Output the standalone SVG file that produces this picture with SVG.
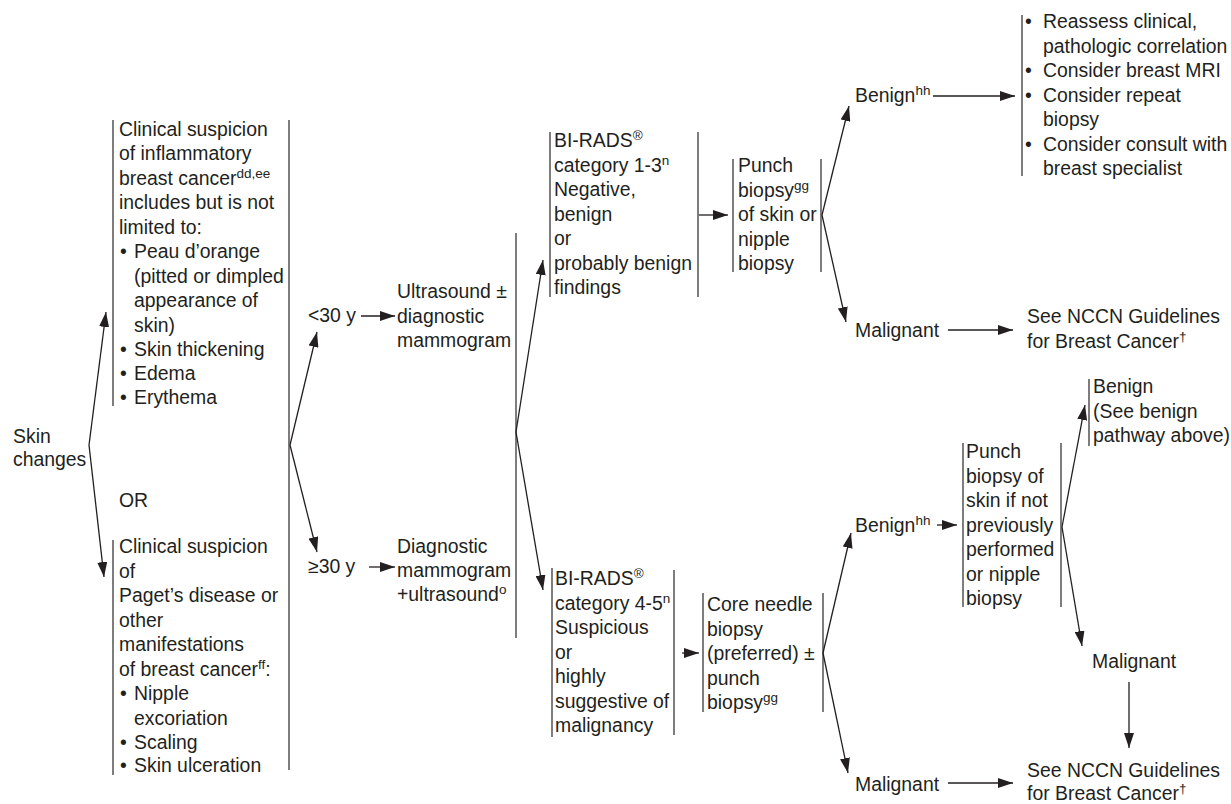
<svg xmlns="http://www.w3.org/2000/svg" width="1231" height="804" viewBox="0 0 1231 804">
  <defs>
    <marker id="arrow" viewBox="0 0 15 10" refX="15" refY="5" markerWidth="15" markerHeight="10" markerUnits="userSpaceOnUse" orient="auto">
      <path d="M0,0 L15,5 L0,10 z" fill="#231f20"/>
    </marker>
    <style>
      text { font-family: "Liberation Sans", Arial, Helvetica, sans-serif; font-size: 19.4px; fill: #231f20; }
      .sup { font-size: 13.5px; }
      .bar { stroke: #3a3637; stroke-width: 1.3; fill: none; }
      .conn line { stroke: #231f20; stroke-width: 1.3; fill: none; marker-end: url(#arrow); }
    </style>
  </defs>
  <rect width="1231" height="804" fill="#ffffff"/>

  <!-- Start -->
  <g id="skin-changes">
    <text><tspan x="13" y="443">Skin</tspan><tspan x="13" y="466">changes</tspan></text>
  </g>

  <!-- Presentations -->
  <g id="inflammatory">
    <line class="bar" x1="113" y1="120" x2="113" y2="406"/>
    <text>
      <tspan x="119" y="135.5">Clinical suspicion</tspan>
      <tspan x="119" y="160">of inflammatory</tspan>
      <tspan x="119" y="184.5">breast cancer<tspan class="sup" dy="-7">dd,ee</tspan></tspan>
      <tspan x="119" y="209">includes but is not</tspan>
      <tspan x="119" y="233.5">limited to:</tspan>
      <tspan x="120" y="258">•</tspan><tspan x="134" y="258">Peau d’orange</tspan>
      <tspan x="134" y="282.5">(pitted or dimpled</tspan>
      <tspan x="134" y="307">appearance of</tspan>
      <tspan x="134" y="331.5">skin)</tspan>
      <tspan x="120" y="356">•</tspan><tspan x="134" y="356">Skin thickening</tspan>
      <tspan x="120" y="380">•</tspan><tspan x="134" y="380">Edema</tspan>
      <tspan x="120" y="404">•</tspan><tspan x="134" y="404">Erythema</tspan>
    </text>
  </g>

  <g id="or-label">
    <text x="119" y="507">OR</text>
  </g>

  <g id="paget">
    <line class="bar" x1="113" y1="540" x2="113" y2="775"/>
    <text>
      <tspan x="119" y="553">Clinical suspicion</tspan>
      <tspan x="119" y="577.5">of</tspan>
      <tspan x="119" y="602">Paget’s disease or</tspan>
      <tspan x="119" y="626.5">other</tspan>
      <tspan x="119" y="651">manifestations</tspan>
      <tspan x="119" y="675.5">of breast cancer<tspan class="sup" dy="-7">ff</tspan><tspan dy="7">:</tspan></tspan>
      <tspan x="120" y="700">•</tspan><tspan x="134" y="700">Nipple</tspan>
      <tspan x="134" y="724.5">excoriation</tspan>
      <tspan x="120" y="749">•</tspan><tspan x="134" y="749">Scaling</tspan>
      <tspan x="120" y="772">•</tspan><tspan x="134" y="772">Skin ulceration</tspan>
    </text>
  </g>

  <g id="presentation-close">
    <line class="bar" x1="289" y1="120" x2="289" y2="770"/>
  </g>

  <!-- Age split -->
  <g id="age-under-30">
    <text x="308" y="322">&lt;30 y</text>
  </g>
  <g id="age-30-plus">
    <text x="308" y="573">≥30 y</text>
  </g>

  <!-- Imaging -->
  <g id="ultrasound">
    <text>
      <tspan x="397" y="298">Ultrasound ±</tspan>
      <tspan x="397" y="322.5">diagnostic</tspan>
      <tspan x="397" y="347">mammogram</tspan>
    </text>
  </g>
  <g id="diagnostic-mammogram">
    <text>
      <tspan x="397" y="553">Diagnostic</tspan>
      <tspan x="397" y="577">mammogram</tspan>
      <tspan x="397" y="601">+ultrasound<tspan class="sup" dy="-7">o</tspan></tspan>
    </text>
  </g>
  <g id="imaging-close">
    <line class="bar" x1="516" y1="233" x2="516" y2="638"/>
  </g>

  <!-- BI-RADS 1-3 branch -->
  <g id="birads-1-3">
    <line class="bar" x1="550" y1="132" x2="550" y2="297"/>
    <line class="bar" x1="698" y1="132" x2="698" y2="297"/>
    <text>
      <tspan x="554" y="147">BI-RADS<tspan class="sup" dy="-7">®</tspan></tspan>
      <tspan x="554" y="171.5">category 1-3<tspan class="sup" dy="-7">n</tspan></tspan>
      <tspan x="554" y="196">Negative,</tspan>
      <tspan x="554" y="220.5">benign</tspan>
      <tspan x="554" y="245">or</tspan>
      <tspan x="554" y="269.5">probably benign</tspan>
      <tspan x="554" y="294">findings</tspan>
    </text>
  </g>

  <g id="punch-biopsy-1">
    <line class="bar" x1="733" y1="159" x2="733" y2="272"/>
    <line class="bar" x1="821" y1="159" x2="821" y2="272"/>
    <text>
      <tspan x="738" y="172">Punch</tspan>
      <tspan x="738" y="196.5">biopsy<tspan class="sup" dy="-7">gg</tspan></tspan>
      <tspan x="738" y="221">of skin or</tspan>
      <tspan x="738" y="245.5">nipple</tspan>
      <tspan x="738" y="270">biopsy</tspan>
    </text>
  </g>

  <g id="benign-1">
    <text x="855" y="102">Benign<tspan class="sup" dy="-7">hh</tspan></text>
  </g>

  <g id="reassess">
    <line class="bar" x1="1022" y1="15" x2="1022" y2="176"/>
    <text>
      <tspan x="1025" y="28">•</tspan><tspan x="1043" y="28">Reassess clinical,</tspan>
      <tspan x="1043" y="52.5">pathologic correlation</tspan>
      <tspan x="1025" y="77">•</tspan><tspan x="1043" y="77">Consider breast MRI</tspan>
      <tspan x="1025" y="101.5">•</tspan><tspan x="1043" y="101.5">Consider repeat</tspan>
      <tspan x="1043" y="126">biopsy</tspan>
      <tspan x="1025" y="150.5">•</tspan><tspan x="1043" y="150.5">Consider consult with</tspan>
      <tspan x="1043" y="175">breast specialist</tspan>
    </text>
  </g>

  <g id="malignant-1">
    <text x="855" y="337">Malignant</text>
  </g>

  <g id="nccn-1">
    <text>
      <tspan x="1027" y="323">See NCCN Guidelines</tspan>
      <tspan x="1027" y="347.5">for Breast Cancer<tspan class="sup" dy="-7">†</tspan></tspan>
    </text>
  </g>

  <!-- BI-RADS 4-5 branch -->
  <g id="birads-4-5">
    <line class="bar" x1="552" y1="568" x2="552" y2="737"/>
    <line class="bar" x1="674" y1="570" x2="674" y2="735"/>
    <text>
      <tspan x="555" y="585">BI-RADS<tspan class="sup" dy="-7">®</tspan></tspan>
      <tspan x="555" y="609.5">category 4-5<tspan class="sup" dy="-7">n</tspan></tspan>
      <tspan x="555" y="634">Suspicious</tspan>
      <tspan x="555" y="658.5">or</tspan>
      <tspan x="555" y="683">highly</tspan>
      <tspan x="555" y="707.5">suggestive of</tspan>
      <tspan x="555" y="732">malignancy</tspan>
    </text>
  </g>

  <g id="core-needle">
    <line class="bar" x1="703" y1="593" x2="703" y2="712"/>
    <line class="bar" x1="823" y1="593" x2="823" y2="712"/>
    <text>
      <tspan x="707" y="611">Core needle</tspan>
      <tspan x="707" y="635.5">biopsy</tspan>
      <tspan x="707" y="660">(preferred) ±</tspan>
      <tspan x="707" y="684.5">punch</tspan>
      <tspan x="707" y="709">biopsy<tspan class="sup" dy="-7">gg</tspan></tspan>
    </text>
  </g>

  <g id="benign-2">
    <text x="855" y="532">Benign<tspan class="sup" dy="-7">hh</tspan></text>
  </g>

  <g id="punch-biopsy-2">
    <line class="bar" x1="963" y1="443" x2="963" y2="607"/>
    <line class="bar" x1="1061" y1="443" x2="1061" y2="607"/>
    <text>
      <tspan x="966" y="458">Punch</tspan>
      <tspan x="966" y="482.5">biopsy of</tspan>
      <tspan x="966" y="507">skin if not</tspan>
      <tspan x="966" y="531.5">previously</tspan>
      <tspan x="966" y="556">performed</tspan>
      <tspan x="966" y="580.5">or nipple</tspan>
      <tspan x="966" y="605">biopsy</tspan>
    </text>
  </g>

  <g id="benign-see-above">
    <line class="bar" x1="1089" y1="379" x2="1089" y2="446"/>
    <text>
      <tspan x="1093" y="393">Benign</tspan>
      <tspan x="1093" y="417.5">(See benign</tspan>
      <tspan x="1093" y="442">pathway above)</tspan>
    </text>
  </g>

  <g id="malignant-2">
    <text x="1092" y="668">Malignant</text>
  </g>

  <g id="malignant-3">
    <text x="855" y="791">Malignant</text>
  </g>

  <g id="nccn-2">
    <text>
      <tspan x="1027" y="777">See NCCN Guidelines</tspan>
      <tspan x="1027" y="800">for Breast Cancer<tspan class="sup" dy="-7">†</tspan></tspan>
    </text>
  </g>

  <!-- Connectors -->
  <g id="connectors" class="conn">
    <line x1="89" y1="445" x2="106" y2="312"/>
    <line x1="89" y1="445" x2="104" y2="577"/>
    <line x1="290" y1="445" x2="317" y2="332"/>
    <line x1="290" y1="445" x2="317" y2="552"/>
    <line x1="361" y1="316" x2="395" y2="316"/>
    <line x1="369" y1="567" x2="395" y2="567"/>
    <line x1="516" y1="432" x2="543" y2="260"/>
    <line x1="516" y1="432" x2="543" y2="590"/>
    <line x1="699" y1="215" x2="728" y2="215"/>
    <line x1="822" y1="215" x2="849" y2="106"/>
    <line x1="822" y1="215" x2="846" y2="322"/>
    <line x1="933" y1="96" x2="1015" y2="96"/>
    <line x1="948" y1="330" x2="1013" y2="330"/>
    <line x1="682" y1="653" x2="699" y2="653"/>
    <line x1="823" y1="653" x2="851" y2="533"/>
    <line x1="823" y1="653" x2="848" y2="773"/>
    <line x1="937" y1="525" x2="957" y2="525"/>
    <line x1="1062" y1="527" x2="1085" y2="405"/>
    <line x1="1062" y1="527" x2="1082" y2="646"/>
    <line x1="1129" y1="682" x2="1129" y2="748"/>
    <line x1="948" y1="783" x2="1013" y2="783"/>
  </g>
</svg>
